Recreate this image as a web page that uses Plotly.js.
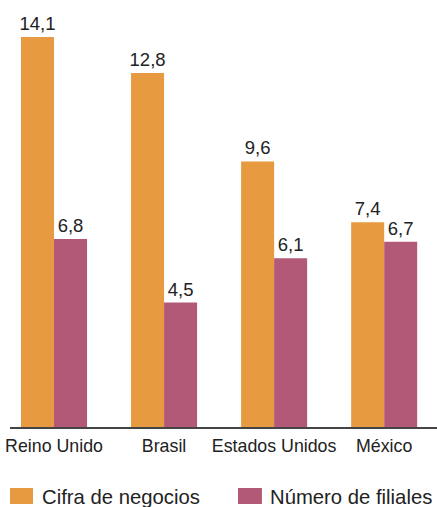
<!DOCTYPE html>
<html>
<head>
<meta charset="utf-8">
<script src="https://cdn.plot.ly/plotly-3.0.1.min.js"></script>
<style>
  html, body { margin: 0; padding: 0; background: #fff; }
  #chart { width: 437px; height: 507px; }
</style>
</head>
<body>
<div id="chart"></div>
<script>
const categories = ['Reino Unido', 'Brasil', 'Estados Unidos', 'México'];
const seriesNames = ['Cifra de negocios', 'Número de filiales'];
const cifraNegocios = [14.1, 12.8, 9.6, 7.4];
const numeroFiliales = [6.8, 4.5, 6.1, 6.7];
const colors = ['#E79A3F', '#B25977'];

const FONT = 'Liberation Sans, Arial, Helvetica, sans-serif';
const TEXT = '#222222';

function barTrace(name, values, color) {
  return {
    type: 'bar',
    name: name,
    x: categories,
    y: values,
    marker: { color: color, line: { width: 0 } },
    texttemplate: '%{y:.1f}',
    textposition: 'outside',
    constraintext: 'none',
    cliponaxis: false,
    textfont: { family: FONT, size: 18.5, color: TEXT },
    hoverinfo: 'none'
  };
}

const data = [
  barTrace(seriesNames[0], cifraNegocios, colors[0]),
  barTrace(seriesNames[1], numeroFiliales, colors[1])
];

// custom legend (square swatches + labels below the plot)
const legendY0 = -0.1499, legendY1 = -0.1892, legendMid = -0.172;
const swatchX = [[0, 0.0539], [0.534, 0.590]];
const labelX = [0.0703, 0.604];

const shapes = seriesNames.map((n, i) => ({
  type: 'rect', xref: 'paper', yref: 'paper',
  x0: swatchX[i][0], x1: swatchX[i][1], y0: legendY0, y1: legendY1,
  fillcolor: colors[i], line: { width: 0 }
}));

const annotations = seriesNames.map((n, i) => ({
  xref: 'paper', yref: 'paper', x: labelX[i], y: legendMid,
  xanchor: 'left', yanchor: 'middle', showarrow: false,
  text: n, font: { family: FONT, size: 20.3, color: TEXT }
}));

const layout = {
  width: 437, height: 507,
  margin: { l: 10, r: 0, t: 20, b: 80 },
  paper_bgcolor: '#ffffff', plot_bgcolor: '#ffffff',
  separators: ', ',
  barmode: 'group',
  bargap: 0.4, bargroupgap: 0,
  showlegend: false,
  font: { family: FONT, color: TEXT },
  xaxis: {
    type: 'category',
    range: [-0.4, 3.48],
    showline: true, linecolor: '#444444', linewidth: 1.5,
    ticks: '', showgrid: false, zeroline: false,
    tickfont: { family: FONT, size: 17.8, color: TEXT },
    ticklabelstandoff: 2,
    fixedrange: true
  },
  yaxis: {
    range: [0, 14.715],
    visible: false, showgrid: false, zeroline: false,
    fixedrange: true
  },
  shapes: shapes,
  annotations: annotations
};

Plotly.newPlot('chart', data, layout, { staticPlot: true, displayModeBar: false });
</script>
</body>
</html>
